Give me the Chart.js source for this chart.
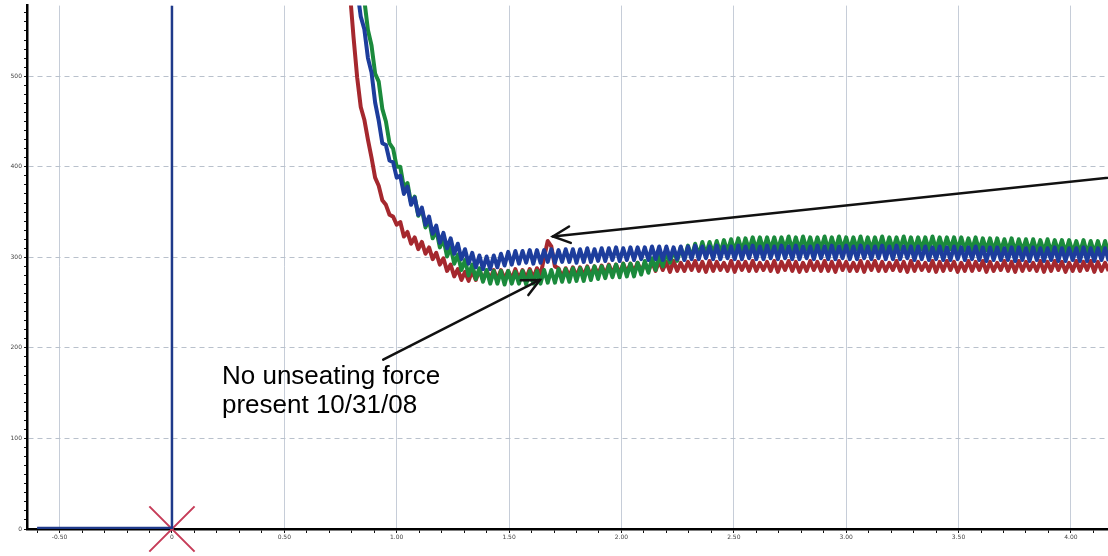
<!DOCTYPE html>
<html>
<head>
<meta charset="utf-8">
<script src="https://cdn.jsdelivr.net/npm/chart.js@4/dist/chart.umd.min.js"></script>
<style>
  html, body { margin: 0; padding: 0; background: #fff; }
  #wrap { width: 1108px; height: 556px; }
</style>
</head>
<body>
<div id="wrap"><canvas id="chart" width="1108" height="556"></canvas></div>
<script>
// 샘플링 (x축: 시간) - 모든 트레이스가 같은 간격으로 기록됨
var sampleStart = 0.76;
var sampleStep = 0.016;

// 빨간 트레이스 (i = 0..213)
var redTrace = [
  692,638,592,543,499,466,452,430, 410,388,379,363,358,347,345,336,
  339,323,328,315,322,309,317,304, 311,298,305,292,299,285,292,279,
  287,275,284,274,285,275,286,275, 285,276,286,275,286,276,285,276,
  287,276,286,277,287,277,288,280, 300,318,312,290,288,278,288,279,
  289,279,289,280,290,280,290,281, 291,281,292,282,292,282,293,283,
  293,284,294,284,294,285,
  295,285,296,286,295,284,296,285,294,285,295,286,296,285,295,284,
  296,285,295,286,294,285,296,284,295,286,295,285,296,285,294,286,
  295,285,296,284,295,286,296,285,295,284,294,285,296,286,295,285,
  296,285,295,284,296,286,295,285,294,285,296,284,295,286,296,285,
  295,285,294,286,296,285,295,284,296,285,295,286,294,285,296,284,
  295,285,296,286,295,284,294,285,296,285,295,286,296,284,295,285,
  294,286,296,285,295,284,296,285,295,286,294,285,296,284,295,285,
  296,286,295,284,294,285,296,285,295,286,296,284,295,285,294,285
];

// 초록 트레이스
var greenTrace = [
  804,756,719,666,634,596,584,551, 534,503,494,464,450,426,420,400,
  400,377,382,360,367,346,353,333, 341,321,330,311,320,301,311,293,
  303,286,297,280,292,276,288,273, 286,
  271,285,271,285,270,285,271,284,271,285,270,285,271,285,271,286,
  272,286,272,287,273,287,273,288,274,288,274,289,275,290,276,290,
  277,291,278,292,278,293,279,293,279,294,281,296,283,299,286,303,
  290,306,294,308,296,311,298,313,300,315,302,317,303,317,304,318,
  305,319,306,320,307,321,307,321,308,322,308,322,308,322,308,322,
  308,322,309,323,308,322,308,323,309,322,308,322,309,323,308,322,
  308,323,309,322,308,322,309,323,308,322,308,322,309,323,308,322,
  308,322,309,323,308,322,308,322,309,322,308,323,308,322,308,322,
  309,322,308,322,308,321,308,322,307,321,308,321,307,321,307,320,
  307,321,306,320,307,320,306,320,306,319,306,320,305,319,306,319,
  305,319,305,318,305,319,304,318,305,318,304,318,304
];

// 파란 트레이스
var blueTrace = [
  784,726,684,626,596,566,552,520, 504,471,451,426,424,407,405,388,
  390,370,378,358,366,347,355,336, 345,326,335,316,327,310,321,304,
  315,298,309,293,305,289,302,287, 301,287,302,289,304,291,306,292,
  307,293,307,294,308,293,308,294, 308,295,309,294,308,295,309,295,
  309,294,309,295,310,295,309,296,
  310,296,310,297,311,296,310,297,311,297,311,298,311,297,312,298,
  312,297,312,298,311,298,312,297,312,298,313,298,312,299,312,298,
  313,298,312,299,312,298,313,298,312,299,313,298,312,298,313,299,
  312,298,313,299,312,298,313,298,312,299,312,298,313,299,312,298,
  313,298,312,299,313,298,312,298,313,299,312,298,312,299,313,298,
  312,298,313,298,312,299,312,297,312,298,312,297,311,298,312,297,
  311,297,312,298,311,297,311,298,312,297,311,296,311,297,311,297,
  310,297,311,296,311,297,310,296,311,297,310,296,310,297,311,296,
  310,296,310,297,310,296,311,296,310,296,310,297,310,296
];

// 기준선 (0 지점의 세로선)
var refX = [-0.6, 0, 0];
var refY = [1, 1, 578];

// 축 범위
var xMin = -0.645, xMax = 4.165;
var yMin = 0, yMax = 578;

// 주석
var noteLines = ['No unseating force', 'present 10/31/08'];

function toPoints(values) {
  return values.map(function (v, i) {
    return { x: sampleStart + i * sampleStep, y: v };
  });
}

function isMajor(v, step) {
  return Math.abs(v / step - Math.round(v / step)) < 1e-6;
}

function drawArrow(ctx, x1, y1, x2, y2) {
  ctx.beginPath();
  ctx.moveTo(x1, y1);
  ctx.lineTo(x2, y2);
  ctx.stroke();
  var ang = Math.atan2(y1 - y2, x1 - x2);
  var len = 19, spread = 0.45;
  ctx.beginPath();
  ctx.moveTo(x2 + len * Math.cos(ang - spread), y2 + len * Math.sin(ang - spread));
  ctx.lineTo(x2, y2);
  ctx.lineTo(x2 + len * Math.cos(ang + spread), y2 + len * Math.sin(ang + spread));
  ctx.stroke();
}

// 화살표와 글자를 그리는 플러그인
var notePlugin = {
  id: 'notes',
  afterDraw: function (chart) {
    var ctx = chart.ctx;
    var xs = chart.scales.x, ys = chart.scales.y;
    ctx.save();
    ctx.strokeStyle = '#111';
    ctx.lineWidth = 2.5;
    ctx.lineCap = 'round';
    drawArrow(ctx, xs.getPixelForValue(4.4), ys.getPixelForValue(394),
                   xs.getPixelForValue(1.695), ys.getPixelForValue(323));
    drawArrow(ctx, xs.getPixelForValue(0.94), ys.getPixelForValue(187),
                   xs.getPixelForValue(1.637), ys.getPixelForValue(275));
    ctx.fillStyle = '#000';
    ctx.font = '26px "Liberation Sans", Arial, sans-serif';
    ctx.textBaseline = 'alphabetic';
    ctx.fillText(noteLines[0], xs.getPixelForValue(0.2225), ys.getPixelForValue(160.5));
    ctx.fillText(noteLines[1], xs.getPixelForValue(0.2225), ys.getPixelForValue(127.7));
    ctx.restore();
  }
};

var lineStyle = { borderWidth: 4, pointRadius: 0, tension: 0, borderJoinStyle: 'round', fill: false };

new Chart(document.getElementById('chart'), {
  type: 'line',
  data: {
    datasets: [
      Object.assign({ data: toPoints(blueTrace), borderColor: '#1d3d9c' }, lineStyle),
      Object.assign({ data: toPoints(greenTrace), borderColor: '#1b8a3c' }, lineStyle),
      Object.assign({ data: toPoints(redTrace), borderColor: '#a5282e' }, lineStyle),
      {
        data: refX.map(function (x, i) { return { x: x, y: refY[i] }; }),
        borderColor: '#1f3a8a', borderWidth: 2.5, pointRadius: 0, tension: 0
      },
      {
        data: [{ x: 0, y: 0 }],
        showLine: false, pointStyle: 'crossRot', pointRadius: 32,
        borderColor: '#c63c58', pointBorderWidth: 2, clip: false
      }
    ]
  },
  options: {
    responsive: false,
    animation: false,
    layout: { padding: 0, autoPadding: false },
    plugins: { legend: { display: false }, tooltip: { enabled: false } },
    scales: {
      x: {
        type: 'linear', min: xMin, max: xMax,
        afterFit: function (s) { s.height = 27; },
        ticks: {
          stepSize: 0.1, autoSkip: false, includeBounds: false, maxRotation: 0,
          padding: 1, color: '#444', font: { size: 6, family: 'DejaVu Sans' },
          callback: function (v) {
            if (!isMajor(v, 0.5)) return '';
            return Math.abs(v) < 1e-9 ? '0' : v.toFixed(2);
          }
        },
        grid: {
          color: function (c) { return isMajor(c.tick.value, 0.5) ? '#c6cdd8' : 'rgba(0,0,0,0)'; },
          tickColor: '#111', tickLength: 4, lineWidth: 1
        },
        border: { color: '#000', width: 2.5 }
      },
      y: {
        min: yMin, max: yMax,
        afterFit: function (s) { s.width = 27; },
        ticks: {
          stepSize: 10, autoSkip: false, includeBounds: false,
          padding: 2, color: '#444', font: { size: 6, family: 'DejaVu Sans' },
          callback: function (v) { return v % 100 === 0 ? String(v) : ''; }
        },
        grid: {
          color: function (c) { return c.tick.value % 100 === 0 ? '#b9c1cc' : 'rgba(0,0,0,0)'; },
          tickColor: '#111', tickLength: 3, lineWidth: 1
        },
        border: { color: '#000', width: 2.5, dash: [5, 4] }
      }
    }
  },
  plugins: [notePlugin]
});
</script>
</body>
</html>
